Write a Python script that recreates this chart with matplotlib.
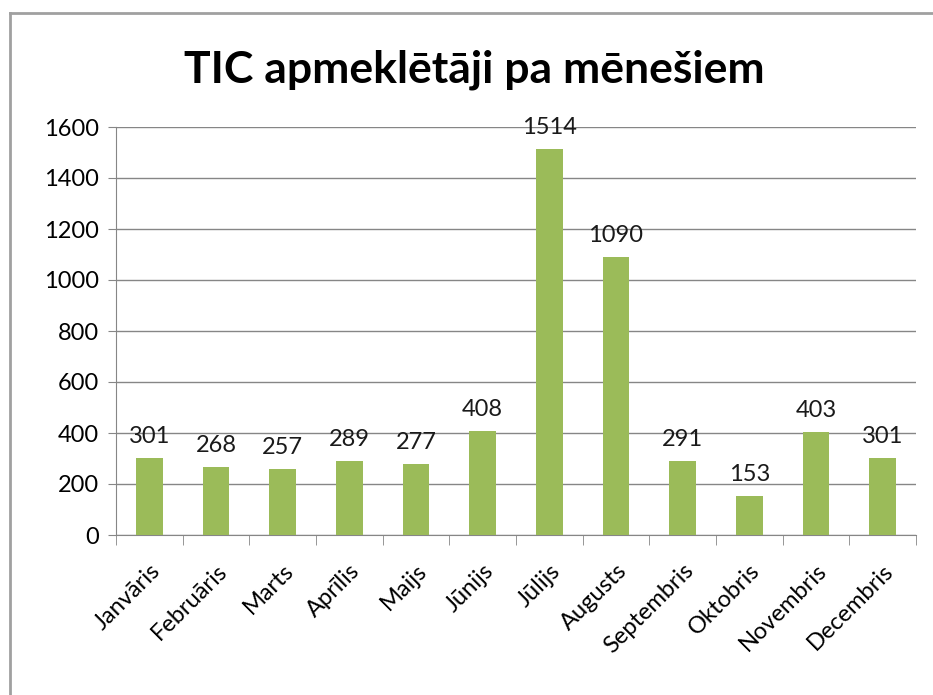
import numpy as np
import matplotlib.pyplot as plt
from matplotlib.lines import Line2D

menesi = ["Janvāris", "Februāris", "Marts", "Aprīlis", "Maijs", "Jūnijs",
          "Jūlijs", "Augusts", "Septembris", "Oktobris", "Novembris", "Decembris"]
apmekletaji = [301, 268, 257, 289, 277, 408, 1514, 1090, 291, 153, 403, 301]
y_ticks = [0, 200, 400, 600, 800, 1000, 1200, 1400, 1600]

plt.rcParams['font.family'] = ['Lato', 'DejaVu Sans']
pelek = '#868686'
zals = '#9BBB59'

fig = plt.figure(figsize=(9.33, 6.95), dpi=100)
ax = fig.add_axes([116/933, 1-535/695, 800/933, 408/695])

x = np.arange(len(menesi))
ax.bar(x, apmekletaji, width=0.4, color=zals, zorder=3)
for xi, v in zip(x, apmekletaji):
    ax.annotate(str(v), (xi, v), xytext=(0, 8), textcoords='offset points',
                ha='center', va='bottom', fontsize=17, color='#1a1a1a')

ax.set_xlim(-0.5, len(menesi)-0.5)
ax.set_ylim(0, 1600)
ax.set_yticks(y_ticks)
ax.tick_params(axis='y', labelsize=17, length=6, color=pelek, pad=6)
ax.yaxis.grid(True, color=pelek, linewidth=1, zorder=0)
ax.set_xticks(np.arange(len(menesi)+1)-0.5, minor=True)
ax.set_xticks(x)
ax.set_xticklabels(menesi, rotation=45, ha='right', rotation_mode='anchor', fontsize=17)
ax.tick_params(axis='x', which='major', length=0, pad=18)
ax.tick_params(axis='x', which='minor', length=7, color=pelek)
for s in ['top', 'right']:
    ax.spines[s].set_visible(False)
for s in ['left', 'bottom']:
    ax.spines[s].set_color(pelek)

fig.text(0.508, 1-70/695, 'TIC apmeklētāji pa mēnešiem', ha='center', va='center',
         fontsize=32, fontweight='bold')

# apmale ap diagrammu
fig.add_artist(Line2D([10/933, 10/933], [0, 1-13/695], color='#a0a0a0', lw=2, transform=fig.transFigure))
fig.add_artist(Line2D([10/933, 1], [1-13/695, 1-13/695], color='#a0a0a0', lw=2, transform=fig.transFigure))

plt.savefig('out.png', dpi=100)
